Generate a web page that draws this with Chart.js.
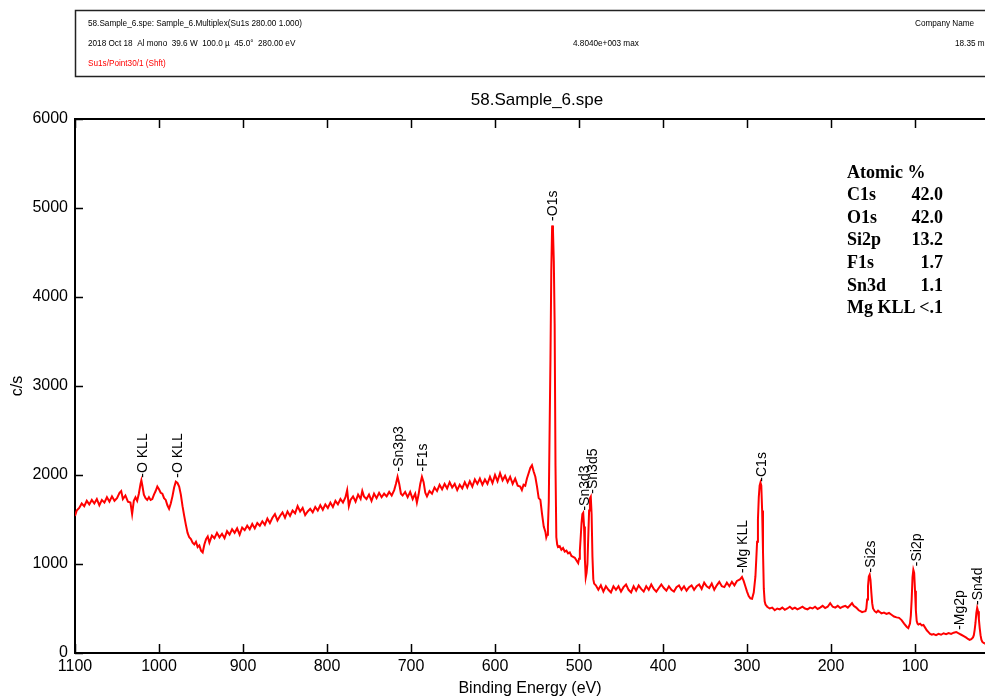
<!DOCTYPE html>
<html>
<head>
<meta charset="utf-8">
<title>58.Sample_6.spe</title>
<script src="https://cdn.jsdelivr.net/npm/chart.js@4.4.1/dist/chart.umd.min.js"></script>
<style>
  html, body { margin: 0; padding: 0; background: #fff; }
  #wrap { width: 985px; height: 698px; }
</style>
</head>
<body>
<div id="wrap"><canvas id="xps" width="985" height="698"></canvas></div>
<script>
// survey spectrum: binding energy (eV) and intensity (c/s)
var bindingEnergy = [
  1100, 1098, 1095, 1092, 1089, 1086, 1083, 1080, 1077, 1074,
  1071, 1068, 1065, 1062, 1059, 1056, 1053, 1050, 1047, 1045,
  1043, 1040, 1037, 1034, 1032, 1030, 1028, 1026, 1024, 1022,
  1021, 1020, 1018, 1016, 1014, 1012, 1010, 1008, 1006, 1004,
  1002, 1000, 998, 996, 994, 992, 990, 988, 986, 984,
  982, 980, 978, 976, 974, 972, 970, 968, 966, 964,
  962, 960, 958, 956, 954, 952, 950, 948, 946, 944,
  942, 940, 937, 934, 931, 928, 925, 922, 919, 916,
  913, 910, 907, 904, 901, 898, 895, 892, 889, 886,
  883, 880, 877, 874, 871, 868, 865, 862, 859, 856,
  853, 850, 847, 844, 841, 838, 835, 832, 829, 826,
  823, 820, 817, 814, 811, 808, 805, 802, 799, 796,
  793, 790, 787, 784, 781, 778, 776, 774, 772, 769,
  766, 763, 760, 758, 756, 753, 750, 747, 744, 741,
  738, 735, 732, 729, 726, 723, 720, 718, 716, 714,
  712, 710, 707, 704, 701, 698, 695, 693, 691, 689,
  687, 685, 683, 681, 678, 675, 672, 669, 666, 663,
  660, 657, 654, 651, 648, 645, 642, 639, 636, 633,
  630, 627, 624, 621, 618, 615, 612, 609, 606, 603,
  600, 597, 594, 591, 588, 585, 582, 579, 576, 573,
  570, 568, 566, 564, 562, 560, 558, 556, 554, 552,
  550, 548, 546, 544, 542, 540, 539, 538, 537, 536,
  535, 534, 533, 532, 531, 530, 529, 528, 527, 526,
  525, 523, 521, 519, 517, 515, 513, 511, 509, 507,
  505, 503, 501, 500, 499, 498, 497, 496, 495, 494,
  493, 492, 491, 490, 489, 488, 487, 486, 485, 484,
  483, 482, 480, 477, 474, 471, 468, 465, 462, 459,
  456, 453, 450, 447, 444, 441, 438, 435, 432, 429,
  426, 423, 420, 417, 414, 411, 408, 405, 402, 399,
  396, 393, 390, 387, 384, 381, 378, 375, 372, 369,
  366, 363, 360, 357, 354, 351, 348, 345, 342, 339,
  336, 333, 330, 327, 324, 321, 318, 315, 312, 310,
  308, 306, 304, 302, 300, 298, 296, 294, 292, 290,
  289, 288, 287, 286, 285, 284, 283, 282, 281, 280,
  279, 278, 276, 273, 270, 267, 264, 261, 258, 255,
  252, 249, 246, 243, 240, 237, 234, 231, 228, 225,
  222, 219, 216, 213, 210, 207, 204, 201, 198, 195,
  192, 189, 186, 183, 180, 177, 175, 173, 170, 167,
  165, 163, 161, 159, 158, 157, 156, 155, 154, 153,
  152, 151, 150, 148, 146, 144, 142, 140, 137, 134,
  131, 128, 125, 122, 119, 116, 113, 110, 108, 106,
  105, 104, 103, 102, 101, 100, 99, 98, 97, 96,
  94, 92, 90, 88, 86, 84, 82, 80, 78, 75,
  72, 69, 66, 63, 60, 57, 54, 51, 49, 47,
  45, 42, 39, 37, 35, 33, 31, 30, 29, 28,
  27, 26, 25, 24, 23, 22, 21, 20, 19, 18,
  17
];
var countsPerSec = [
  1540, 1600, 1630, 1680, 1650, 1710, 1670, 1720, 1680, 1730,
  1660, 1720, 1690, 1750, 1700, 1760, 1710, 1740, 1800, 1820,
  1730, 1770, 1700, 1690, 1560, 1710, 1750, 1710, 1790, 1900,
  1940, 1890, 1780, 1740, 1720, 1750, 1720, 1730, 1780, 1820,
  1870, 1840, 1800, 1790, 1740, 1720, 1660, 1620, 1680, 1760,
  1860, 1925, 1910, 1870, 1780, 1650, 1540, 1440, 1350, 1300,
  1280, 1240, 1220, 1250, 1190, 1210, 1150, 1130, 1220, 1280,
  1310, 1240, 1320, 1290, 1350, 1300, 1340, 1290, 1370, 1330,
  1390, 1350, 1400, 1330, 1410, 1380, 1430, 1390, 1450, 1400,
  1460, 1430, 1480, 1440, 1510, 1460, 1520, 1560, 1490, 1540,
  1580, 1520, 1590, 1540, 1600, 1570, 1650, 1590, 1630, 1550,
  1590, 1620, 1580, 1640, 1600, 1660, 1610, 1670, 1630, 1690,
  1640, 1710, 1670, 1730, 1690, 1750, 1830, 1650, 1720, 1760,
  1700, 1780, 1730, 1820, 1760, 1730, 1780, 1710, 1790, 1740,
  1800, 1750, 1790, 1760, 1810, 1770, 1830, 1900, 1980, 1900,
  1790, 1770, 1810, 1750, 1810, 1730, 1790, 1690, 1780, 1900,
  1980, 1920, 1800, 1760, 1820, 1790, 1860, 1820, 1890, 1840,
  1900, 1850, 1920, 1860, 1900, 1830, 1890, 1850, 1920, 1860,
  1930, 1870, 1950, 1900, 1960, 1890, 1950, 1900, 1980, 1910,
  2000, 1930, 2020, 1940, 1990, 1920, 1980, 1900, 1960, 1880,
  1870, 1830, 1890, 1880, 1960, 2020, 2080, 2110, 2040, 1980,
  1870, 1740, 1720, 1560, 1420, 1360, 1300, 1330, 1420, 1700,
  2500, 3300, 4300, 4804, 4750, 4400, 3700, 2100, 1300, 1220,
  1190, 1200, 1160, 1180, 1140, 1150, 1120, 1130, 1090, 1080,
  1070, 1040, 1010, 1060, 1150, 1300, 1460, 1560, 1575, 1420,
  1050, 850, 900, 1000, 1300, 1600, 1740, 1757, 1560, 1080,
  830, 780, 760, 710, 760, 690, 750, 710, 680, 750,
  710, 750, 690, 740, 770, 710, 680, 750, 700, 760,
  720, 690, 750, 710, 770, 720, 690, 730, 770, 730,
  700, 750, 710, 690, 740, 760, 710, 750, 700, 740,
  760, 710, 750, 770, 720, 790, 750, 730, 780, 710,
  760, 800, 750, 740, 790, 750, 800, 760, 810, 820,
  830, 855, 810, 750, 690, 640, 615, 610, 680, 860,
  1050, 1250, 1500, 1750, 1880, 1915, 1880, 1600, 1150, 720,
  580, 545, 520, 500, 510, 480, 500, 490, 510, 485,
  500, 520, 495, 510, 490, 505, 520, 500, 490, 510,
  500, 520, 495, 510, 530, 505, 520, 560, 520, 510,
  530, 505, 520, 530, 510, 540, 560, 530, 510, 480,
  470, 460, 465, 470, 500, 600, 750, 860, 880, 820,
  680, 560, 500, 470, 455, 475, 460, 445, 455, 440,
  450, 430, 410, 400, 395, 370, 330, 295, 280, 330,
  420, 600, 850, 935, 900, 700, 480, 360, 330, 320,
  330, 310, 315, 285, 255, 235, 215, 205, 212, 200,
  215, 205, 222, 212, 225, 215, 228, 236, 225, 215,
  205, 190, 172, 158, 148, 155, 175, 200, 260, 340,
  450, 507, 470, 380, 280, 200, 150, 128, 118, 112,
  110
];

var xTicks = [1100, 1000, 900, 800, 700, 600, 500, 400, 300, 200, 100];
var yTicks = [0, 1000, 2000, 3000, 4000, 5000, 6000];

// peak markers: name, energy and the c/s level where the label starts
var peakNames = ['-O KLL', '-O KLL', '-Sn3p3', '-F1s', '-O1s', '-Sn3d3', '-Sn3d5', '-Mg KLL', '-C1s', '-Si2s', '-Si2p', '-Mg2p', '-Sn4d'];
var peakEnergy = [1019, 977, 714, 686, 531, 493, 483, 305, 282, 152, 98, 46, 25];
var peakLabelBase = [1970, 1970, 2040, 2040, 4855, 1600, 1790, 900, 1925, 905, 975, 260, 540];

var atomicNames = ['C1s', 'O1s', 'Si2p', 'F1s', 'Sn3d', 'Mg KLL'];
var atomicValues = ['42.0', '42.0', '13.2', '1.7', '1.1', '<.1'];

var headerLines = [
  '58.Sample_6.spe: Sample_6.Multiplex(Su1s 280.00 1.000)',
  '2018 Oct 18  Al mono  39.6 W  100.0 \u00b5  45.0\u00b0  280.00 eV',
  'Su1s/Point30/1 (Shft)'
];

var SANS = 'Arial, "Liberation Sans", sans-serif';

// ticks point into the plot, on bottom, top and left edges
var inwardTicks = {
  id: 'inwardTicks',
  afterDraw: function(chart) {
    var c = chart.ctx, a = chart.chartArea, x = chart.scales.x, y = chart.scales.y;
    c.save();
    c.strokeStyle = '#000';
    c.lineWidth = 1.5;
    c.beginPath();
    x.ticks.forEach(function(t) {
      var px = Math.round(x.getPixelForValue(t.value)) + 0.5;
      c.moveTo(px, a.bottom); c.lineTo(px, a.bottom - 9);
      c.moveTo(px, a.top); c.lineTo(px, a.top + 9);
    });
    y.ticks.forEach(function(t) {
      var py = Math.round(y.getPixelForValue(t.value)) + 0.5;
      c.moveTo(a.left, py); c.lineTo(a.left + 8, py);
    });
    c.stroke();
    c.restore();
  }
};

var peakLabels = {
  id: 'peakLabels',
  afterDatasetsDraw: function(chart) {
    var c = chart.ctx, x = chart.scales.x, y = chart.scales.y;
    c.save();
    c.fillStyle = '#000';
    c.font = '14px ' + SANS;
    c.textAlign = 'left';
    c.textBaseline = 'middle';
    peakNames.forEach(function(name, i) {
      c.save();
      c.translate(x.getPixelForValue(peakEnergy[i]), y.getPixelForValue(peakLabelBase[i]));
      c.rotate(-Math.PI / 2);
      c.fillText(name, 0, 0);
      c.restore();
    });
    c.restore();
  }
};

// header box, plot title and the atomic % table
var decorations = {
  id: 'decorations',
  afterDraw: function(chart) {
    var c = chart.ctx, a = chart.chartArea, x = chart.scales.x;
    c.save();
    c.strokeStyle = '#222';
    c.lineWidth = 1.5;
    c.strokeRect(75.5, 10.5, 1000, 66);

    c.font = '8.2px ' + SANS;
    c.textBaseline = 'middle';
    c.textAlign = 'left';
    c.fillStyle = '#000';
    c.fillText(headerLines[0], 88, 24);
    c.fillText(headerLines[1], 88, 44);
    c.fillText('Company Name', 915, 24);
    c.fillText('4.8040e+003 max', 573, 44);
    c.fillText('18.35 min', 955, 44);
    c.fillStyle = '#ff0000';
    c.fillText(headerLines[2], 88, 64);

    // title centred over the full 1100..0 eV span
    c.fillStyle = '#000';
    c.font = '17px ' + SANS;
    c.textAlign = 'center';
    c.fillText('58.Sample_6.spe', (a.left + x.getPixelForValue(0)) / 2, 100);

    c.font = 'bold 18px "Liberation Serif", "Times New Roman", serif';
    c.textAlign = 'left';
    c.fillText('Atomic %', 847, 173);
    atomicNames.forEach(function(n, i) {
      var ty = 195.5 + i * 22.6;
      c.textAlign = 'left';
      c.fillText(n, 847, ty);
      c.textAlign = 'right';
      c.fillText(atomicValues[i], 943, ty);
    });
    c.restore();
  }
};

function plainLabel(v) { return String(v); }

document.addEventListener('DOMContentLoaded', function(){
  Chart.defaults.font.family = SANS;
  Chart.defaults.color = '#000';

  var points = bindingEnergy.map(function(e, i) { return {x: e, y: countsPerSec[i]}; });
  var ctx = document.getElementById('xps').getContext('2d');
  var chart = new Chart(ctx, {
    type: 'line',
    data: {
      datasets: [{
        data: points,
        borderColor: 'rgb(255, 0, 0)',
        borderWidth: 2,
        pointRadius: 0,
        fill: false,
        tension: 0
      }]
    },
    options: {
      responsive: false,
      animation: false,
      devicePixelRatio: 1,
      layout: { padding: { top: 119, right: 0, bottom: 0, left: 0 } },
      plugins: {
        legend: { display: false },
        tooltip: { enabled: false }
      },
      scales: {
        x: {
          type: 'linear',
          position: 'bottom',
          reverse: true,
          min: 16.7,
          max: 1100,
          afterBuildTicks: function(s) { s.ticks = xTicks.map(function(v) { return {value: v}; }); },
          afterFit: function(s) { s.height = 45; },
          ticks: { font: { size: 16 }, color: '#000', padding: 4, maxRotation: 0, autoSkip: false, callback: plainLabel },
          grid: { drawOnChartArea: false, drawTicks: false },
          border: { color: '#000', width: 2 },
          title: { display: true, text: 'Binding Energy (eV)', font: { size: 16 }, color: '#000', padding: { top: 0, bottom: 0 } }
        },
        xTop: {
          type: 'linear',
          position: 'top',
          reverse: true,
          min: 16.7,
          max: 1100,
          ticks: { display: false },
          grid: { drawOnChartArea: false, drawTicks: false },
          border: { color: '#000', width: 2 },
          afterFit: function(s) { s.height = 0; }
        },
        y: {
          type: 'linear',
          position: 'left',
          min: 0,
          max: 6000,
          afterBuildTicks: function(s) { s.ticks = yTicks.map(function(v) { return {value: v}; }); },
          afterFit: function(s) { s.width = 75; },
          ticks: { font: { size: 16 }, color: '#000', padding: 7, callback: plainLabel },
          grid: { drawOnChartArea: false, drawTicks: false },
          border: { color: '#000', width: 2 },
          title: { display: true, text: 'c/s', font: { size: 16 }, color: '#000', padding: { top: 8, bottom: 0 } }
        }
      }
    },
    plugins: [inwardTicks, peakLabels, decorations]
  });
});
</script>
</body>
</html>
